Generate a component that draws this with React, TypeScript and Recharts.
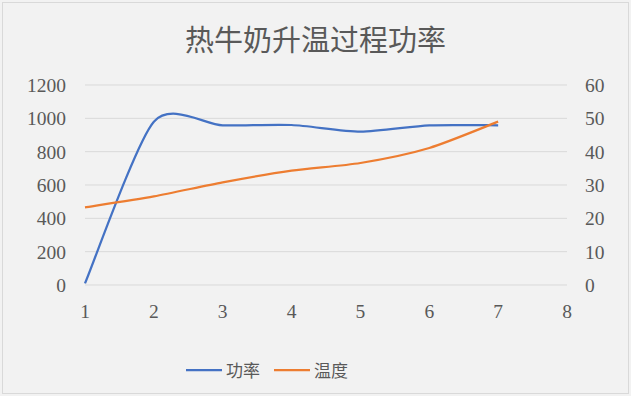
import { LineChart, Line, XAxis, YAxis, CartesianGrid, Legend } from 'recharts';

const steps = [1, 2, 3, 4, 5, 6, 7];
const power = [10, 980, 958, 960, 920, 958, 958];
const temperature = [23.3, 26.6, 30.8, 34.3, 36.6, 41.1, 49];
const xTicks = [1, 2, 3, 4, 5, 6, 7, 8];
const powerTicks = [0, 200, 400, 600, 800, 1000, 1200];
const tempTicks = [0, 10, 20, 30, 40, 50, 60];

const data = steps.map((x, i) => ({ x, power: power[i], temperature: temperature[i] }));

const BLUE = '#4472c4';
const ORANGE = '#ed7d31';
const TEXT = '#595959';
const CJK = '"Noto Sans CJK SC", sans-serif';
const tickStyle = { fill: TEXT, fontSize: 19.5, fontFamily: '"Liberation Serif", serif' };

// Excel-like smoothed line, a softened Catmull-Rom through every point
const K = 0.125;
const excelCurve = (ctx: any) => {
  let pts: [number, number][] = [];
  return {
    areaStart() {},
    areaEnd() {},
    lineStart() {
      pts = [];
    },
    lineEnd() {
      if (!pts.length) return;
      ctx.moveTo(pts[0][0], pts[0][1]);
      for (let i = 0; i < pts.length - 1; i++) {
        const p0 = pts[i - 1] || pts[i];
        const p1 = pts[i];
        const p2 = pts[i + 1];
        const p3 = pts[i + 2] || p2;
        ctx.bezierCurveTo(
          p1[0] + (p2[0] - p0[0]) * K,
          p1[1] + (p2[1] - p0[1]) * K,
          p2[0] - (p3[0] - p1[0]) * K,
          p2[1] - (p3[1] - p1[1]) * K,
          p2[0],
          p2[1]
        );
      }
    },
    point(x: number, y: number) {
      pts.push([+x, +y]);
    },
  };
};

const legendItems = [
  { name: '功率', color: BLUE },
  { name: '温度', color: ORANGE },
];

function ChartLegend() {
  return (
    <div style={{ display: 'flex', paddingLeft: 186, gap: 14, fontFamily: CJK, fontSize: 17, color: TEXT }}>
      {legendItems.map((item) => (
        <div key={item.name} style={{ display: 'flex', alignItems: 'center', gap: 4 }}>
          <svg width={36} height={4}>
            <line x1={0} y1={2} x2={36} y2={2} stroke={item.color} strokeWidth={2.25} />
          </svg>
          <span>{item.name}</span>
        </div>
      ))}
    </div>
  );
}

export default function App() {
  return (
    <div style={{ position: 'absolute', left: 0, top: 0, width: 631, height: 396, background: '#f2f2f2' }}>
      <div
        style={{
          position: 'absolute',
          left: 2,
          top: 2,
          width: 625,
          height: 390,
          border: '1.5px solid #d9d9d9',
        }}
      />
      <div
        style={{
          position: 'absolute',
          top: 24,
          left: 0,
          width: 631,
          textAlign: 'center',
          fontFamily: CJK,
          fontSize: 29,
          lineHeight: '29px',
          color: TEXT,
        }}
      >
        热牛奶升温过程功率
      </div>
      <LineChart width={631} height={396} data={data} margin={{ top: 85, right: 0, bottom: 71, left: 0 }}>
        <CartesianGrid vertical={false} stroke="#d9d9d9" yAxisId="left" />
        <XAxis
          dataKey="x"
          type="number"
          domain={[1, 8]}
          ticks={xTicks}
          axisLine={false}
          tickLine={false}
          tickSize={0}
          tickMargin={19}
          height={40}
          tick={tickStyle}
        />
        <YAxis
          yAxisId="left"
          domain={[0, 1200]}
          ticks={powerTicks}
          width={85}
          axisLine={false}
          tickLine={false}
          tickSize={0}
          tickMargin={19}
          tick={tickStyle}
        />
        <YAxis
          yAxisId="right"
          orientation="right"
          domain={[0, 60]}
          ticks={tempTicks}
          width={64}
          axisLine={false}
          tickLine={false}
          tickSize={0}
          tickMargin={18}
          tick={tickStyle}
        />
        <Legend
          verticalAlign="middle"
          layout="horizontal"
          content={() => <ChartLegend />}
          wrapperStyle={{ top: 357, left: 0, width: 631 }}
        />
        <Line
          yAxisId="left"
          dataKey="power"
          name="功率"
          type={excelCurve as any}
          stroke={BLUE}
          strokeWidth={2.25}
          dot={false}
          isAnimationActive={false}
        />
        <Line
          yAxisId="right"
          dataKey="temperature"
          name="温度"
          type={excelCurve as any}
          stroke={ORANGE}
          strokeWidth={2.25}
          dot={false}
          isAnimationActive={false}
        />
      </LineChart>
    </div>
  );
}
